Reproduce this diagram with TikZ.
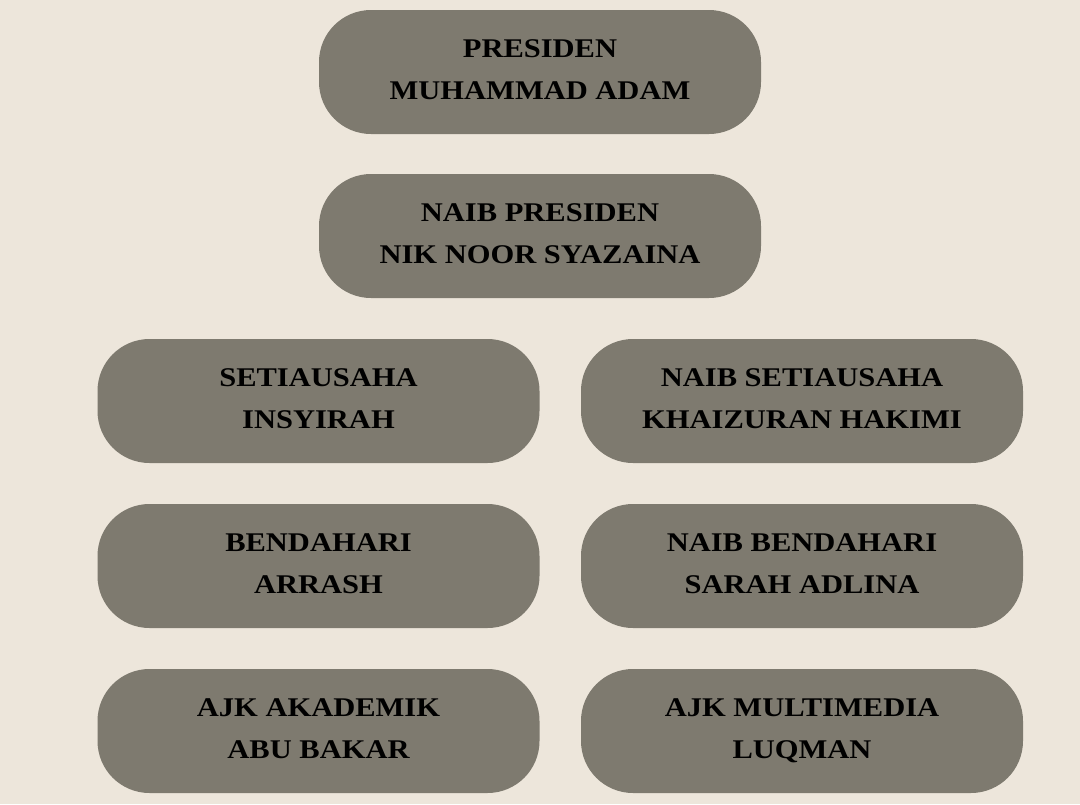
\documentclass[tikz,border=0pt]{standalone}
\usepackage{fontspec}
\setmainfont[FakeStretch=1.13]{Liberation Serif}
\usetikzlibrary{backgrounds}
\definecolor{latar}{HTML}{EDE6DB}
\definecolor{kelabu}{HTML}{7E7A6F}
\tikzset{
	carta/.style={x=1pt, y=-1pt, font=\fontsize{27}{42}\selectfont\bfseries},
	kotak/.style={fill=kelabu, rounded corners=52pt, align=center, text=black,
	              minimum width=442pt, minimum height=124pt, inner sep=0pt,
	              text height=54pt, text depth=0pt},
}
\begin{document}
\begin{tikzpicture}[carta]

\fill[latar] (0,0) rectangle (1080,804);
\useasboundingbox (0,0) rectangle (1080,804);

\node[kotak] (presiden) at (540,72) {PRESIDEN\\MUHAMMAD ADAM};
\node[kotak] (naibpresiden) at (540,236) {NAIB PRESIDEN\\NIK NOOR SYAZAINA};

\node[kotak] (setiausaha) at (318.5,401) {SETIAUSAHA\\INSYIRAH};
\node[kotak] (naibsetiausaha) at (802,401) {NAIB SETIAUSAHA\\KHAIZURAN HAKIMI};

\node[kotak] (bendahari) at (318.5,566) {BENDAHARI\\ARRASH};
\node[kotak] (naibbendahari) at (802,566) {NAIB BENDAHARI\\SARAH ADLINA};

\node[kotak] (akademik) at (318.5,731) {AJK AKADEMIK\\ABU BAKAR};
\node[kotak] (multimedia) at (802,731) {AJK MULTIMEDIA\\LUQMAN};

\end{tikzpicture}
\end{document}
